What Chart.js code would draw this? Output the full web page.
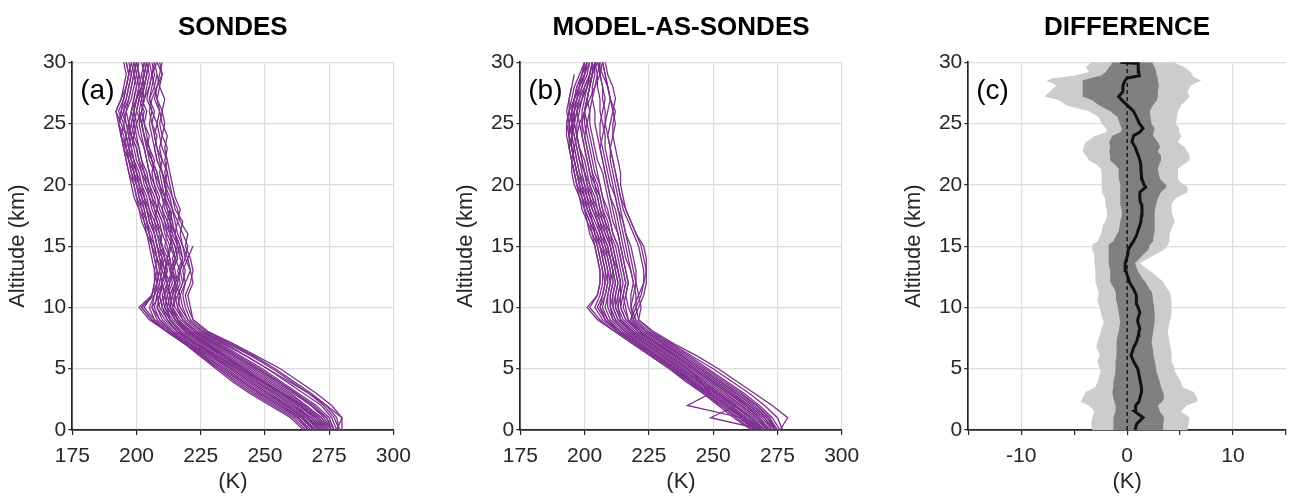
<!DOCTYPE html>
<html><head><meta charset="utf-8">
<script src="https://cdn.jsdelivr.net/npm/chart.js@4.4.0/dist/chart.umd.min.js"></script>
<style>
html,body{margin:0;padding:0;background:#fff;width:1295px;height:503px;overflow:hidden}
canvas{position:absolute;top:0}
</style></head><body>
<canvas id="ca" width="430" height="503" style="left:0px"></canvas>
<canvas id="cb" width="430" height="503" style="left:448px"></canvas>
<canvas id="cc" width="399" height="503" style="left:896px"></canvas>
<script>
// ---------- DATA ----------
const LEVELS = [0,1,2,3,4,5,6,7,8,9,10,11,12,13,14,15,16,17,18,19,20,21,22,23,24,25,26,27,28,29,30];

// Panel (a): sonde temperature profiles (K) at LEVELS (km)
const SONDES = [
 [280,280,276,270,263,256,247,238,228,222,221,220,222,221,219,220,218,216,217,215,214,213,212,211,212,210,209,208,209,208,207],
 [279,277,273,267,260,253,245,236,227,221,219,218,219,221,220,218,217,218,215,214,212,211,212,210,209,208,209,207,208,210,209],
 [278,276,272,265,258,251,243,234,226,220,218,217,219,218,220,222],
 [277,275,270,263,256,249,241,233,225,219,216,215,217,216,218,217,215,214,213,211,212,210,208,207,206,205,206,204,205,206,205],
 [277,274,268,262,255,248,240,232,224,218,215,214,216,215,214,216,214,213,211,210,208,207,205,204,205,203,202,203,204,205,204],
 [276,273,268,261,254,247,239,231,223,217,214,213,215,214,216,215,213,212,210,211,209,207,206,204,203,202,201,202,203,204,203],
 [276,272,266,260,253,246,238,230,222,216,213,212,214,213,215,214,212,211,209,208,206,205,204,203,201,200,199,200,202,203,204],
 [275,272,266,259,252,245,237,229,221,216,214,215,216,217,215,213,214,212,213,211,210,209,210,208,207,208,206,205,207,206,208],
 [275,271,265,258,251,244,236,228,220,215,212,211,213,214,212,213,211,210,208,207,205,204,202,201,200,199,198,199,200,201,200],
 [274,270,264,257,250,243,235,227,220,216,213,214,215,213,212,214,213,211,210,208,207,206,207,205,204,203,204,202,203,202],
 [274,270,263,256,249,242,234,226,219,214,211,210,212,211,213,212,210,209,207,206,204,203,201,200,198,197,196,198,199,200,201],
 [273,269,263,256,248,241,233,226,219,215,212,213,212,214,213,211,212,210,208,209,207,205,204,203,202,201,202,203,202,201,200],
 [273,268,262,255,248,240,232,225,218,213,210,209,211,212,211,210,209,208,206,205,203,202,200,199,198,196,195,197,198,199,198],
 [272,268,261,254,247,240,232,224,217,213,211,212,213,211,212,210,209,207,208,206,205,203,202,201,199,198,199,200,201,200,199],
 [272,267,260,253,246,239,231,223,216,212,209,208,210,211,210,209,208,206,205,203,202,200,199,198,197,196,194,196,197,198,197],
 [271,266,259,252,245,238,230,223,216,211,208,209,210,209,211,210,208,207,205,204,202,201,199,197,196,195,193,195,196,197,196],
 [271,266,259,251,244,237,229,222,215,210,208,211,212,210,209,208,207,206,204,203,201,200,198,197,196,194,192,194,196,197,196],
 [270,265,258,250,243,236,229,221,214,209,207,208,209,210,208,207,206,204,203,202,200,199,198,196,195,193,192,194,195,196,195],
 [270,264,257,249,242,235,228,221,214,208,206,207,209,208,207,206,205,204,202,201,200,198,197,195,194,193,194,195,196,197,198],
 [269,264,256,248,241,234,227,220,213,207,205,207,208,209,208,206,205,203,202,200,199,197,196,195,194,195,196,197,198,199,200],
 [268,263,255,247,240,233,226,220,213,207,203,206,207,208,207,206,204,203,201,200,199,198,197,196,197,198,199,200,202,203,204],
 [267,262,254,246,239,232,226,219,212,206,202,206,207,207,208,207,205,204,203,201,200,199,198,197,198,199,200,201,203,204,205],
 [266,261,253,245,238,232,225,219,212,205,201,206,208,207,206,205,204,202,201,199,198,197,196,195,196,197,198,200,201,202,203],
 [265,260,252,244,237,231,225,219,212,206,202,207,208,209,210,208,207,205,204,202,201,200,199,198,199,200,202,203,205,206,207],
 [278,280,274,267,259,251,243,235,226,220,217,216,218,217,219,218,216,215,214,212,211,210,208,207,208,206,205,206,208,209,210],
 [274,271,265,257,249,242,235,228,221,216,214,216,218,219,217,216,215,213,214,212,211,212,210,209,210,211,210,211,209,210,208],
 [271,267,261,254,246,239,231,224,217,213,212,213,215,214,216,215,213,214,212,211,209,208,206,205,203,202,203,201,202,203,202],
 [269,265,258,251,244,237,230,223,216,212,210,211,210,212,211,209,210,208,207,205,204,202,201,200,198,197,198,199,200,199,200],
 [276,274,269,262,255,247,239,231,223,218,216,217,215,217,218,216,215,216,214,213,211,210,209,208,207,206,207,205,206,207,206],
 [273,270,264,256,249,241,234,227,220,215,213,214,216,214,215,217,215,213,212,210,209,208,206,204,203,202,200,201,203,204],
 [267,263,256,248,241,234,227,221,214,209,206,209,210,211,209,208,207,205,204,203,201,199,197,196,194,193,195,196,197,198,199],
 [279,278,274,268,261,254,246,237,228,222,220,219,221,222,221,219,220,217,216,214,213,212,211,212,210,209,210,208,207,208]
];

// Panel (b): model-as-sondes temperature profiles (K) at LEVELS (km)
const MODEL = [
 [276,279,273,266,259,252,244,235,227,221,222,221,220,219,218,217,216,215,214,213,212,211,210,210,209,208,208,207,207,206,206],
 [277,275,270,264,257,250,242,234,226,221,220,220,219,218,217,216,215,214,213,212,211,210,209,208,208,207,206,206,205,205,204],
 [276,273,268,262,255,248,241,233,225,220,218,218,219,218,216,215,214,213,212,210,209,208,207,206,205,204,204,203,203,204,204],
 [275,272,267,260,253,246,239,231,224,219,217,216,217,216,215,214,213,211,210,209,208,207,205,204,203,202,202,201,202,203,203],
 [274,271,265,259,252,245,238,230,223,218,219,221,223,224,224,223,220,218,216,214,213,212,211,210,211,212,211,210,209,208,207],
 [274,270,264,258,251,244,237,229,222,217,216,215,216,215,214,213,211,210,209,207,206,205,204,203,202,201,200,201,202,203,204],
 [273,269,263,257,250,243,236,228,221,216,214,214,215,214,213,212,210,209,207,206,205,203,202,201,200,199,199,200,201,202,203],
 [272,268,262,256,249,242,235,228,221,217,215,216,217,216,215,214,213,212,211,210,209,208,207,206,207,208,209,210,209,207,205],
 [272,267,261,255,248,241,234,227,220,215,213,213,214,213,212,211,209,208,206,205,204,202,201,200,199,198,197,198,199,200,201],
 [271,267,261,254,247,240,233,226,219,214,212,212,213,212,211,210,208,207,205,204,202,201,200,198,197,196,196,197,198,199,200],
 [271,266,260,253,246,239,232,225,218,214,213,214,214,213,211,210,208,206,205,203,202,200,199,198,197,197,198,199,201,202,203],
 [270,265,259,252,245,238,231,224,218,213,211,211,212,211,210,209,207,206,204,203,201,200,199,198,197,196,195,196,197,199,201],
 [270,265,258,251,244,237,231,224,217,212,210,210,211,211,210,208,207,205,203,202,200,199,198,197,196,195,194,194,195,196],
 [269,264,258,251,244,237,230,223,216,211,209,209,210,210,209,208,206,205,203,201,200,198,197,196,195,194,193,194,195],
 [269,263,257,250,243,236,229,222,216,211,210,210,211,210,209,207,206,204,202,201,199,198,197,196,195,195,196,197,198,199,200],
 [268,263,256,249,242,236,229,222,215,210,208,209,210,209,208,207,205,203,202,200,199,197,196,195,194,194,195,196,197,199,201],
 [268,262,256,249,242,235,228,221,214,209,207,208,209,209,208,206,205,203,201,200,198,197,196,195,194,193,194,195,196,198,200],
 [267,262,255,248,241,235,228,221,214,209,206,207,208,208,207,206,204,203,201,199,198,197,196,195,194,194,195,197,199,201,202],
 [267,261,254,247,241,234,227,220,213,208,205,207,208,207,206,205,204,202,200,199,197,196,195,194,193,193,194,196,198,200,201],
 [266,260,253,247,240,234,227,220,213,207,204,206,207,207,206,205,203,202,200,199,197,196,195,194,194,195,196,198,200,202,203],
 [265,259,253,246,240,233,226,219,212,206,202,205,206,206,205,204,203,201,200,198,197,196,195,194,195,196,197,199,201,203,205],
 [265,258,252,246,239,233,226,219,212,205,201,205,206,206,205,204,202,201,199,198,196,195,195,196,197,198,200,202,204,206,207],
 [267,261,240,249,245,240,233,226,219,213,211,212,213,212,211,210,209,207,206,205,203,202,201,200,199,199,200,201,202,203,204],
 [270,249,259,252,246,240,233,226,219,214,212,213,214,213,212,211,210,208,207,206,204,203,202,201,200,201,202,203,204,205,206],
 [273,270,264,257,250,243,236,229,222,218,220,222,223,223,222,221,219,217,215,214,213,212,211,210,209,210,211,212,211,209,208],
 [275,271,266,259,252,245,238,231,224,219,221,223,224,224,223,222,220,218,216,215,214,214,213,212,211,211,212,210,209,208,207],
 [272,268,263,256,249,242,235,228,221,216,214,215,216,215,214,213,211,210,208,207,206,204,203,202,201,200,200,201,202,203,204],
 [269,265,258,251,244,238,231,224,217,212,210,211,212,211,210,209,207,205,204,202,201,200,198,197,196,195,195,196,198,200,202],
 [274,272,267,261,254,247,240,232,224,219,218,219,220,220,219,218,216,215,213,212,210,209,208,207,206,206,207,208,207,206,205],
 [266,261,255,248,241,235,228,221,214,208,206,208,209,208,207,206,204,203,201,200,198,197,196,195,195,196,197,199,200,202]
];

// Panel (c): difference statistics (K) versus altitude (km)
const DIFF_ALT      = [0,0.5,1,1.5,2,2.3,2.6,3.1,3.5,3.9,4.8,5.0,5.6,6.1,6.4,6.7,7.2,7.7,8.0,8.3,8.8,9.0,9.6,10.3,10.5,11.0,11.3,11.5,12.1,12.4,12.9,13.0,13.6,14.3,14.7,15.1,15.4,15.9,16.2,16.7,17.0,17.5,17.8,18.3,18.6,18.9,19.4,19.8,20.0,20.2,20.5,20.8,21.3,21.6,22.0,22.4,22.7,23.1,23.5,24.0,24.3,24.6,25.0,25.5,26.0,26.5,26.9,27.2,27.6,28.1,28.5,28.7,28.9,29.2,29.6,29.9,30.0];
const DIFF_LIGHT_LO = [-3.3,-3.4,-3.3,-3.1,-3.6,-4.4,-4.2,-3.9,-3.0,-2.8,-2.5,-2.6,-2.8,-2.6,-2.7,-2.9,-2.8,-2.6,-2.5,-2.4,-2.2,-2.3,-2.5,-2.7,-2.8,-2.75,-2.7,-2.8,-3.0,-3.0,-3.0,-3.0,-3.1,-3.1,-3.3,-3.3,-2.8,-2.5,-2.4,-2.3,-2.05,-1.9,-1.9,-2.0,-2.05,-2.1,-2.4,-2.4,-2.4,-2.4,-2.4,-2.4,-2.5,-2.8,-3.6,-3.9,-4.2,-4.1,-3.9,-3.0,-1.9,-2.0,-2.4,-2.7,-3.6,-5.8,-6.4,-7.8,-7.3,-6.7,-7.6,-7.0,-5.0,-3.6,-3.9,-3.5,-3.4];
const DIFF_DARK_LO  = [-1.3,-1.3,-1.3,-1.1,-1.1,-1.2,-1.3,-1.4,-1.3,-1.3,-1.1,-1.1,-1.1,-1.0,-1.0,-1.0,-1.0,-0.9,-0.8,-0.75,-0.65,-0.7,-0.8,-0.95,-1.0,-1.05,-1.1,-1.2,-1.6,-1.6,-1.6,-1.6,-1.75,-1.75,-1.75,-1.75,-1.3,-1.0,-0.8,-0.7,-0.65,-0.5,-0.5,-0.6,-0.65,-0.65,-0.65,-0.65,-0.65,-0.7,-0.8,-0.8,-0.8,-1.1,-1.6,-1.6,-1.7,-1.6,-1.7,-1.4,-0.6,-0.5,-0.7,-0.9,-1.6,-2.7,-3.3,-4.2,-4.2,-4.2,-4.2,-3.5,-2.5,-2.0,-1.7,-1.4,-1.6];
const DIFF_MEAN     = [0.75,0.9,1.5,0.75,0.8,1.1,1.2,1.35,1.35,1.25,1.05,1.0,0.6,0.37,0.5,0.6,0.9,1.05,1.1,1.2,1.0,1.0,1.2,0.9,0.9,0.84,0.7,0.6,0.19,0.1,-0.1,-0.12,-0.19,0.06,0.1,0.37,0.6,0.9,1.0,1.2,1.3,1.35,1.4,1.4,1.25,1.2,1.2,1.75,1.6,1.5,1.4,1.35,1.3,1.3,1.2,1.05,0.9,0.75,0.45,0.6,1.2,1.5,1.15,0.9,0.6,0.0,-0.5,-0.8,-0.4,-0.4,-0.2,0.0,1.15,1.1,1.05,1.05,-0.65];
const DIFF_DARK_HI  = [3.4,3.4,3.5,3.1,2.9,3.3,3.5,3.4,3.2,3.1,2.75,2.75,2.6,2.5,2.45,2.4,2.3,2.4,2.45,2.5,2.6,2.6,2.6,2.5,2.45,2.4,2.3,2.1,1.7,1.4,1.05,1.0,0.75,1.5,2.0,2.15,2.45,2.5,2.6,2.6,2.6,2.6,2.6,2.7,2.8,2.9,3.2,3.7,3.7,3.4,3.1,3.0,2.9,3.0,3.2,3.2,2.9,3.1,2.9,2.45,2.5,2.6,2.3,2.2,2.15,2.45,2.8,2.9,2.9,3.0,2.9,2.9,2.8,2.75,2.6,2.4,2.5];
const DIFF_LIGHT_HI = [5.7,5.8,5.9,5.1,5.6,6.6,6.6,6.3,5.2,5.1,4.5,4.5,4.2,4.2,4.2,4.1,4.0,3.9,3.85,3.9,4.0,4.1,4.2,4.2,4.2,4.1,4.0,3.8,3.4,3.0,2.3,2.1,1.2,2.6,3.5,3.85,4.0,4.0,4.1,4.3,4.5,4.3,4.2,4.2,4.3,4.6,5.7,5.7,5.4,5.0,4.8,4.8,4.8,5.2,5.9,5.9,5.7,5.4,4.8,5.1,4.9,4.9,4.6,4.7,4.8,5.1,5.6,5.9,5.7,6.0,7.0,6.5,6.2,6.0,5.4,4.6,4.4];

// ---------- STYLE ----------
const FONT = "'Liberation Sans', Arial, Helvetica, sans-serif";
const AX = '#262626';
const GRID = '#dcdcdc';
const PURPLE = '#7E2F8E';

const panelLabel = {
  id: 'panelLabel',
  afterDatasetsDraw(chart, args, opts) {
    const {ctx, chartArea} = chart;
    ctx.save();
    ctx.font = '28px ' + FONT;
    ctx.fillStyle = '#000';
    ctx.textBaseline = 'middle';
    ctx.textAlign = 'left';
    ctx.fillText(opts.text, chartArea.left + 8, chartArea.top + 29);
    ctx.restore();
  }
};

function options(o) {
  return {
    responsive: false, animation: false, devicePixelRatio: 1,
    layout: {padding: {left: 0, right: o.padRight, top: 0, bottom: 0}},
    plugins: {
      legend: {display: false}, tooltip: {enabled: false},
      title: {display: true, text: o.title, fullSize: false, color: '#000',
        font: {family: FONT, size: 26, weight: 'bold', lineHeight: 1.2}, padding: {top: 12, bottom: 19}},
      panelLabel: {text: o.label}
    },
    scales: {
      x: {type: 'linear', min: o.xmin, max: o.xmax,
        afterFit: s => { s.height = 73; },
        ticks: {stepSize: o.xstep, color: AX, font: {family: FONT, size: 21}, padding: 9, maxRotation: 0, autoSkip: false,
          callback: o.xcb || (v => v)},
        grid: {color: o.gridColor || GRID, lineWidth: 1.2, tickLength: 5, tickColor: AX, tickWidth: 1.2},
        border: {display: true, color: AX, width: 1.7},
        title: {display: true, text: '(K)', color: AX, font: {family: FONT, size: 22, lineHeight: 1.2}, padding: {top: 0, bottom: 8}}
      },
      y: {type: 'linear', min: 0, max: 30,
        afterFit: s => { s.width = 72.3; },
        ticks: {stepSize: 5, color: AX, font: {family: FONT, size: 21}, padding: 2},
        grid: {color: GRID, lineWidth: 1.2, tickLength: 4, tickColor: AX, tickWidth: 1.2},
        border: {display: true, color: AX, width: 1.7},
        title: {display: true, text: 'Altitude (km)', color: AX, font: {family: FONT, size: 22, lineHeight: 1.2}, padding: {top: 5, bottom: 0}}
      }
    }
  };
}

function profileSets(list) {
  return list.map(T => ({
    data: T.map((t, i) => ({x: t, y: LEVELS[i]})),
    borderColor: PURPLE, borderWidth: 1.3, pointRadius: 0, tension: 0, fill: false
  }));
}

new Chart(document.getElementById('ca'), {
  type: 'line',
  data: {datasets: profileSets(SONDES)},
  options: options({title: 'SONDES', label: '(a)', xmin: 175, xmax: 300, xstep: 25, padRight: 36.7}),
  plugins: [panelLabel]
});

new Chart(document.getElementById('cb'), {
  type: 'line',
  data: {datasets: profileSets(MODEL)},
  options: options({title: 'MODEL-AS-SONDES', label: '(b)', xmin: 175, xmax: 300, xstep: 25, padRight: 36.3}),
  plugins: [panelLabel]
});

function band(lo, hi) {
  const left = DIFF_ALT.map((z, i) => ({x: lo[i], y: z}));
  const right = DIFF_ALT.map((z, i) => ({x: hi[i], y: z})).reverse();
  return left.concat(right);
}

new Chart(document.getElementById('cc'), {
  type: 'line',
  data: {datasets: [
    {data: DIFF_ALT.map((z, i) => ({x: DIFF_MEAN[i], y: z})), borderColor: '#111', borderWidth: 3, pointRadius: 0, tension: 0, fill: false, order: 0},
    {data: [{x: 0, y: 0}, {x: 0, y: 30}], borderColor: '#000', borderWidth: 1.2, borderDash: [4, 3], pointRadius: 0, fill: false, order: 1},
    {data: band(DIFF_DARK_LO, DIFF_DARK_HI), borderWidth: 0, backgroundColor: '#808080', pointRadius: 0, tension: 0, fill: 'shape', order: 2},
    {data: band(DIFF_LIGHT_LO, DIFF_LIGHT_HI), borderWidth: 0, backgroundColor: '#cccccc', pointRadius: 0, tension: 0, fill: 'shape', order: 3}
  ]},
  options: options({title: 'DIFFERENCE', label: '(c)', xmin: -15, xmax: 15, xstep: 5, padRight: 5.3,
    xcb: v => (v % 10 === 0 ? v : ''),
    gridColor: c => (c.tick && c.tick.value % 10 === 0 ? GRID : 'rgba(0,0,0,0)')}),
  plugins: [panelLabel]
});
</script>
</body></html>
